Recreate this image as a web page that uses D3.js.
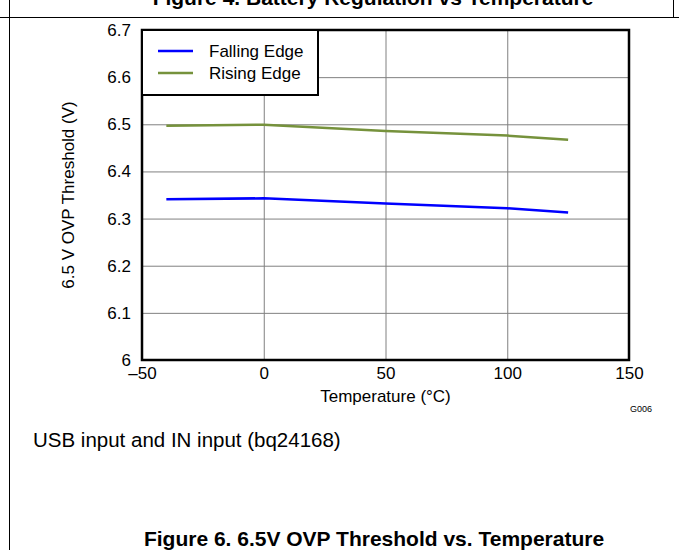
<!DOCTYPE html>
<html>
<head>
<meta charset="utf-8">
<script src="https://cdn.jsdelivr.net/npm/d3@7"></script>
<style>
  body { margin: 0; background: #fff; }
  svg { display: block; font-family: "Liberation Sans", Arial, sans-serif; }
</style>
</head>
<body>
<svg id="chart" width="679" height="550"></svg>
<script>
// Data
const temps = [-40, 0, 50, 100, 125];
const fallingEdge = [6.341, 6.343, 6.332, 6.322, 6.313];
const risingEdge = [6.497, 6.499, 6.486, 6.476, 6.467];
const seriesNames = ['Falling Edge', 'Rising Edge'];
const seriesColors = ['#0000ff', '#76923c'];
const xTicks = [-50, 0, 50, 100, 150];
const yTicks = [6, 6.1, 6.2, 6.3, 6.4, 6.5, 6.6, 6.7];

const svg = d3.select('#chart');
const margin = { top: 30, left: 142, right: 50, bottom: 190 };
const W = 679, H = 550;
const innerW = W - margin.left - margin.right;
const innerH = H - margin.top - margin.bottom;
const font = '"Liberation Sans", Arial, sans-serif';

const x = d3.scaleLinear().domain([-50, 150]).range([0, innerW]);
const y = d3.scaleLinear().domain([6, 6.7]).range([innerH, 0]);

// page frame lines
svg.append('line').attr('x1', 9.5).attr('x2', 9.5).attr('y1', 0).attr('y2', H)
  .attr('stroke', '#000').attr('stroke-width', 1);
svg.append('line').attr('x1', 0).attr('x2', W).attr('y1', 17.5).attr('y2', 17.5)
  .attr('stroke', '#000').attr('stroke-width', 1);
svg.append('line').attr('x1', 673.5).attr('x2', 673.5).attr('y1', 0).attr('y2', 17.5)
  .attr('stroke', '#000').attr('stroke-width', 1);

// title of the figure above, cut off by the page top
svg.append('text')
  .attr('x', 373).attr('y', 5)
  .attr('text-anchor', 'middle')
  .attr('font-size', 21).attr('font-weight', 'bold')
  .text('Figure 4. Battery Regulation vs Temperature');

const g = svg.append('g').attr('transform', `translate(${margin.left},${margin.top})`);

// gridlines
g.append('g')
  .attr('transform', `translate(0,${innerH})`)
  .call(d3.axisBottom(x).tickValues(xTicks).tickSize(-innerH).tickFormat(''))
  .call(s => s.select('.domain').remove())
  .selectAll('line').attr('stroke', '#808080');
g.append('g')
  .call(d3.axisLeft(y).tickValues(yTicks).tickSize(-innerW).tickFormat(''))
  .call(s => s.select('.domain').remove())
  .selectAll('line').attr('stroke', '#808080');

// tick labels
const xAxis = g.append('g')
  .attr('transform', `translate(0,${innerH})`)
  .call(d3.axisBottom(x).tickValues(xTicks).tickSize(0).tickPadding(7)
    .tickFormat(d => d < 0 ? '\u2013' + Math.abs(d) : d));
xAxis.select('.domain').remove();
xAxis.selectAll('text').attr('font-size', 17).attr('fill', '#000').attr('font-family', font);

const yAxis = g.append('g')
  .call(d3.axisLeft(y).tickValues(yTicks).tickSize(0).tickPadding(11)
    .tickFormat(d => d === 6 ? '6' : d3.format('.1f')(d)));
yAxis.select('.domain').remove();
yAxis.selectAll('text').attr('font-size', 17).attr('fill', '#000').attr('font-family', font);

// series lines
const line = d3.line().x(d => x(d[0])).y(d => y(d[1]));
[fallingEdge, risingEdge].forEach((vals, i) => {
  g.append('path')
    .datum(temps.map((t, j) => [t, vals[j]]))
    .attr('fill', 'none')
    .attr('stroke', seriesColors[i])
    .attr('stroke-width', 2.5)
    .attr('d', line);
});

// plot border
g.append('rect')
  .attr('width', innerW).attr('height', innerH)
  .attr('fill', 'none').attr('stroke', '#000').attr('stroke-width', 2.5);

// legend
const legend = g.append('g');
legend.append('rect')
  .attr('x', 0).attr('y', 0).attr('width', 176).attr('height', 65)
  .attr('fill', '#fff').attr('stroke', '#000').attr('stroke-width', 2);
seriesNames.forEach((name, i) => {
  const ly = 21 + i * 22;
  legend.append('line')
    .attr('x1', 16).attr('x2', 51).attr('y1', ly).attr('y2', ly)
    .attr('stroke', seriesColors[i]).attr('stroke-width', 2.5);
  legend.append('text')
    .attr('x', 67).attr('y', ly + 6)
    .attr('font-size', 17).attr('fill', '#000')
    .text(name);
});

// axis titles
svg.append('text')
  .attr('transform', `translate(74,${margin.top + innerH / 2}) rotate(-90)`)
  .attr('text-anchor', 'middle')
  .attr('font-size', 17)
  .text('6.5 V OVP Threshold (V)');

svg.append('text')
  .attr('x', margin.left + innerW / 2).attr('y', 402)
  .attr('text-anchor', 'middle')
  .attr('font-size', 17)
  .text('Temperature (\u00B0C)');

svg.append('text')
  .attr('x', 652).attr('y', 412)
  .attr('text-anchor', 'end')
  .attr('font-size', 9)
  .text('G006');

svg.append('text')
  .attr('x', 33).attr('y', 447)
  .attr('font-size', 20.5)
  .text('USB input and IN input (bq24168)');

svg.append('text')
  .attr('x', 374).attr('y', 546)
  .attr('text-anchor', 'middle')
  .attr('font-size', 21).attr('font-weight', 'bold')
  .text('Figure 6. 6.5V OVP Threshold vs. Temperature');
</script>
</body>
</html>
